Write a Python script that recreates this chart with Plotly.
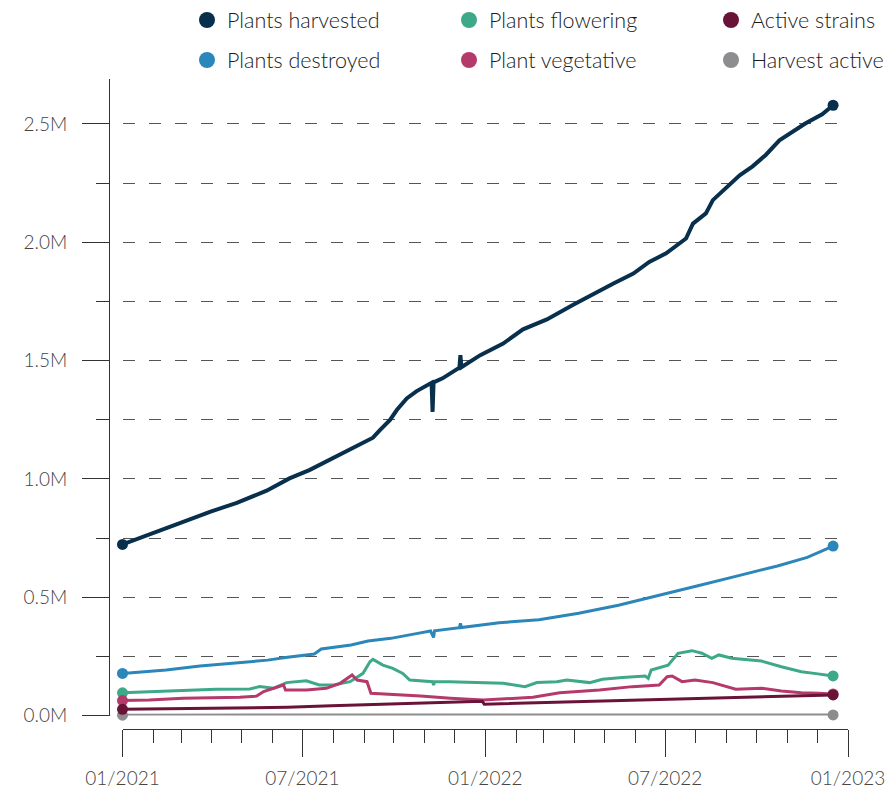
import plotly.graph_objects as go

# ── Data (values in plants / strains) ───────────────────────────────────
harvested_dates = [
    "2021-01-01", "2021-01-28", "2021-02-27", "2021-03-30", "2021-04-26",
    "2021-05-26", "2021-06-18", "2021-07-08", "2021-08-04", "2021-08-24",
    "2021-09-10", "2021-09-17", "2021-09-27", "2021-10-04", "2021-10-14",
    "2021-10-24", "2021-11-08", "2021-11-09", "2021-11-10", "2021-11-19",
    "2021-12-03", "2021-12-06", "2021-12-07", "2021-12-08", "2021-12-27",
    "2022-01-19", "2022-02-08", "2022-03-04", "2022-03-31", "2022-04-23",
    "2022-05-10", "2022-05-30", "2022-06-15", "2022-07-02", "2022-07-22",
    "2022-07-29", "2022-08-11", "2022-08-18", "2022-09-01", "2022-09-14",
    "2022-09-27", "2022-10-10", "2022-10-24", "2022-11-06", "2022-11-19",
    "2022-12-06", "2022-12-17",
]
harvested = [
    723000, 767000, 812000, 861000, 899000,
    950000, 1002000, 1037000, 1096000, 1136000,
    1174000, 1206000, 1248000, 1291000, 1340000,
    1371000, 1406000, 1283000, 1408000, 1425000,
    1463000, 1470000, 1523000, 1472000, 1523000,
    1572000, 1632000, 1674000, 1737000, 1790000,
    1826000, 1868000, 1917000, 1953000, 2016000,
    2079000, 2122000, 2178000, 2234000, 2283000,
    2321000, 2368000, 2431000, 2466000, 2502000,
    2541000, 2579000,
]

destroyed_dates = [
    "2021-01-01", "2021-02-14", "2021-03-20", "2021-04-23", "2021-05-27",
    "2021-06-16", "2021-07-13", "2021-07-20", "2021-08-19", "2021-09-05",
    "2021-09-28", "2021-10-25", "2021-11-07", "2021-11-10", "2021-11-11",
    "2021-12-06", "2021-12-07", "2021-12-08", "2022-01-15", "2022-02-24",
    "2022-04-05", "2022-05-15", "2022-06-24", "2022-08-03", "2022-09-12",
    "2022-10-22", "2022-11-21", "2022-12-17",
]
destroyed = [
    178000, 192000, 209000, 220000, 234000,
    246000, 260000, 281000, 298000, 315000,
    326000, 347000, 357000, 330000, 358000,
    371000, 390000, 372000, 392000, 405000,
    432000, 466000, 506000, 548000, 590000,
    632000, 668000, 716000,
]

flowering_dates = [
    "2021-01-01", "2021-01-28", "2021-03-03", "2021-04-05", "2021-05-09",
    "2021-05-19", "2021-06-02", "2021-06-15", "2021-07-05", "2021-07-18",
    "2021-08-01", "2021-08-18", "2021-08-31", "2021-09-07", "2021-09-10",
    "2021-09-20", "2021-09-30", "2021-10-10", "2021-10-17", "2021-11-09",
    "2021-11-10", "2021-11-11", "2021-11-26", "2021-12-30", "2022-01-19",
    "2022-02-10", "2022-02-22", "2022-03-14", "2022-03-24", "2022-04-16",
    "2022-04-29", "2022-05-19", "2022-06-11", "2022-06-14", "2022-06-17",
    "2022-07-04", "2022-07-14", "2022-07-28", "2022-08-07", "2022-08-17",
    "2022-08-24", "2022-09-06", "2022-09-23", "2022-10-06", "2022-10-26",
    "2022-11-15", "2022-11-28", "2022-12-17",
]
flowering = [
    96000, 101000, 108000, 111000, 112000,
    122000, 115000, 139000, 147000, 129000,
    129000, 143000, 178000, 227000, 237000,
    213000, 199000, 178000, 150000, 143000,
    128000, 143000, 143000, 139000, 136000,
    122000, 139000, 143000, 150000, 139000,
    153000, 161000, 167000, 157000, 192000,
    213000, 263000, 274000, 263000, 242000,
    256000, 242000, 234000, 230000, 206000,
    185000, 178000, 167000,
]

vegetative_dates = [
    "2021-01-01", "2021-01-28", "2021-03-03", "2021-04-05", "2021-04-29",
    "2021-05-16", "2021-05-23", "2021-06-12", "2021-06-14", "2021-07-05",
    "2021-07-25", "2021-08-08", "2021-08-20", "2021-08-25", "2021-09-04",
    "2021-09-08", "2021-10-01", "2021-10-28", "2021-11-27", "2021-12-30",
    "2022-02-18", "2022-03-17", "2022-04-26", "2022-05-29", "2022-06-25",
    "2022-07-03", "2022-07-08", "2022-07-18", "2022-07-31", "2022-08-18",
    "2022-09-10", "2022-10-06", "2022-10-26", "2022-11-15", "2022-12-02",
    "2022-12-17",
]
vegetative = [
    63000, 65000, 73000, 75000, 77000,
    82000, 101000, 129000, 108000, 108000,
    115000, 136000, 171000, 150000, 143000,
    94000, 87000, 82000, 73000, 65000,
    77000, 96000, 108000, 122000, 129000,
    164000, 167000, 143000, 150000, 139000,
    111000, 115000, 104000, 96000, 94000,
    91000,
]

strains_dates = [
    "2021-01-01", "2021-06-16", "2021-07-30", "2021-11-27",
    "2021-12-29", "2021-12-31", "2022-04-26", "2022-08-05", "2022-12-17",
]
active_strains = [26000, 35000, 41000, 57000, 60000, 48000, 60000, 72000, 87000]

harvest_active_dates = ["2021-01-01", "2021-07-01", "2022-01-01", "2022-07-01", "2022-12-17"]
harvest_active = [1500, 1800, 2000, 2200, 2400]

y_ticks = [0, 500000, 1000000, 1500000, 2000000, 2500000]
y_minor_ticks = [250000, 750000, 1250000, 1750000, 2250000]

FONT = "Lato, 'Open Sans', sans-serif"
AXIS_COLOR = "#333333"
GRID_COLOR = "#555555"
W, H, PAGE_PAD = 895, 791, 8   # page body margin offsets the figure by 8px

# name, dates, values, colour, line width
series = [
    ("Plants harvested", harvested_dates, harvested, "#08304d", 4),
    ("Plants flowering", flowering_dates, flowering, "#3da989", 3),
    ("Active strains", strains_dates, active_strains, "#6a1339", 3),
    ("Plants destroyed", destroyed_dates, destroyed, "#2b86b9", 3),
    ("Plant vegetative", vegetative_dates, vegetative, "#b5396b", 3),
    ("Harvest active", harvest_active_dates, harvest_active, "#8d8d8f", 3),
]

# legend slots on screen: (left x px, centre y px) -> 3 columns x 2 rows
legend_slots = [(187, 20), (449, 20), (711, 20), (187, 60), (449, 60), (711, 60)]

fig = go.Figure()

# draw order: lower series first, harvested on top
draw_order = [5, 3, 1, 4, 2, 0]
for i in draw_order:
    name, dates, vals, color, width = series[i]
    fig.add_trace(go.Scatter(
        x=dates, y=vals, mode="lines", name=name, showlegend=False,
        line=dict(color=color, width=width), cliponaxis=False,
    ))
    fig.add_trace(go.Scatter(
        x=[dates[0], dates[-1]], y=[vals[0], vals[-1]], mode="markers",
        showlegend=False, marker=dict(color=color, size=11), cliponaxis=False,
    ))

# one legend per entry, so each can be placed on the 3x2 grid
legends = {}
for k, (name, dates, vals, color, width) in enumerate(series):
    key = "legend" if k == 0 else f"legend{k + 1}"
    fig.add_trace(go.Scatter(
        x=[None], y=[None], mode="markers", name=name, legend=key,
        marker=dict(color=color, size=16),
    ))
    lx, ly = legend_slots[k]
    legends[key] = dict(
        orientation="h", xref="container", yref="container",
        x=(lx - PAGE_PAD) / W, y=1 - (ly - PAGE_PAD) / H,
        xanchor="left", yanchor="middle",
        font=dict(family=FONT, size=21.5, color="#1a1a1a", weight=300),
        bgcolor="rgba(0,0,0,0)", itemclick=False, itemdoubleclick=False,
    )

fig.update_layout(
    width=W, height=H,
    margin=dict(l=101, r=55, t=71, b=70, autoexpand=False),
    paper_bgcolor="white", plot_bgcolor="white",
    font=dict(family=FONT, size=19, color="#444444", weight=300),
    **legends,
    xaxis=dict(
        type="date", range=["2021-01-01", "2023-01-01"],
        domain=[13.5 / 739, 1], anchor="free", position=0,
        showline=True, linecolor=AXIS_COLOR, linewidth=1,
        showgrid=False, zeroline=False,
        ticks="outside", ticklen=27, tickcolor=AXIS_COLOR, tickwidth=1,
        dtick="M6", tick0="2021-01-01", tickformat="%m/%Y",
        ticklabelstandoff=5,
        minor=dict(dtick="M1", tick0="2021-01-01", ticks="outside",
                   ticklen=13, tickcolor=AXIS_COLOR, tickwidth=1, showgrid=False),
        tickfont=dict(family=FONT, size=19, color="#444444", weight=300),
    ),
    yaxis=dict(
        range=[0, 2690000],
        domain=[13.5 / 650, 1], anchor="free", position=0,
        showline=True, linecolor=AXIS_COLOR, linewidth=1,
        zeroline=False,
        tickmode="array", tickvals=y_ticks,
        ticktext=[f"{v / 1e6:.1f}M" for v in y_ticks],
        ticks="outside", ticklen=27, tickcolor=AXIS_COLOR, tickwidth=1,
        ticklabelstandoff=11,
        showgrid=True, gridcolor=GRID_COLOR, gridwidth=1, griddash="12px,14px",
        minor=dict(tickmode="array", tickvals=y_minor_ticks, ticks="outside",
                   ticklen=13, tickcolor=AXIS_COLOR, tickwidth=1,
                   showgrid=True, gridcolor=GRID_COLOR, gridwidth=1,
                   griddash="12px,14px"),
        tickfont=dict(family=FONT, size=19, color="#444444", weight=300),
    ),
)

fig.write_html("out.html")
